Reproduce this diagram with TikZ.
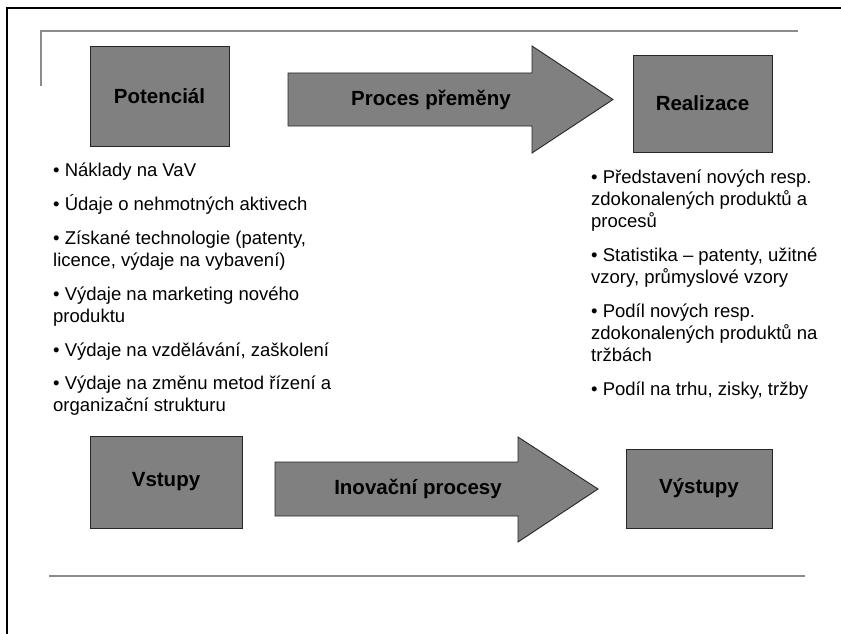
\documentclass[tikz,border=0pt]{standalone}
\usepackage{fontspec}
\setmainfont{Liberation Sans}
\usetikzlibrary{positioning}
\tikzstyle{box} = [rectangle,
draw=black!85,
line width=0.9pt,
fill=gray,
font=\fontsize{20.5}{24}\selectfont\bfseries]
\tikzstyle{bigarrow} = [draw=black!85, line width=0.9pt, fill=gray]
\tikzstyle{title} = [font=\fontsize{20.5}{24}\selectfont\bfseries]
\tikzstyle{bullets} = [align=left, inner sep=0pt,
font=\fontsize{18.5}{22}\selectfont]
\tikzstyle{rule} = [draw=black!45, line width=2pt]
\tikzstyle{frame} = [draw=black, line width=2.2pt]

\begin{document}
\begin{tikzpicture}[x=1pt, y=-1pt]
  \useasboundingbox (0,0) rectangle (841,634);

  % page frame and rules
  \draw [frame] (7,634) -- (7,8) -- (841,8);
  \draw [rule] (41,86) -- (41,31) -- (798,31);
  \draw [rule] (49,576) -- (805,576);

  % top row
  \node (potencial) [box, minimum width=139pt, minimum height=100pt] at (159.5,96) {Potenciál};
  \node (realizace) [box, minimum width=139pt, minimum height=97pt] at (702.5,103.5) {Realizace};
  \draw [bigarrow] (288,73) -- (532,73) -- (532,46) -- (613,99.5) -- (532,153) -- (532,126) -- (288,126) -- cycle;
  \node (premena) [title] at (431,99.5) {Proces přeměny};

  % bullet lists
  \node (naklady) [bullets, anchor=north west] at (53,163) {%
    • Náklady na VaV\\[11.8pt]
    • Údaje o nehmotných aktivech\\[11.8pt]
    • Získané technologie (patenty,\\
    licence, výdaje na vybavení)\\[11.8pt]
    • Výdaje na marketing nového\\
    produktu\\[11.8pt]
    • Výdaje na vzdělávání, zaškolení\\[11.8pt]
    • Výdaje na změnu metod řízení a\\
    organizační strukturu};
  \node (vysledky) [bullets, anchor=north west] at (591,170) {%
    • Představení nových resp.\\
    zdokonalených produktů a\\
    procesů\\[11.8pt]
    • Statistika – patenty, užitné\\
    vzory, průmyslové vzory\\[11.8pt]
    • Podíl nových resp.\\
    zdokonalených produktů na\\
    tržbách\\[11.8pt]
    • Podíl na trhu, zisky, tržby};

  % bottom row
  \node (vstupy) [box, minimum width=152pt, minimum height=92pt] at (166,482) {Vstupy};
  \node (vystupy) [box, minimum width=146pt, minimum height=79pt] at (699,488.5) {Výstupy};
  \draw [bigarrow] (275,462) -- (518,462) -- (518,437) -- (598,489) -- (518,542) -- (518,516) -- (275,516) -- cycle;
  \node (procesy) [title] at (418,489) {Inovační procesy};

\end{tikzpicture}
\end{document}
